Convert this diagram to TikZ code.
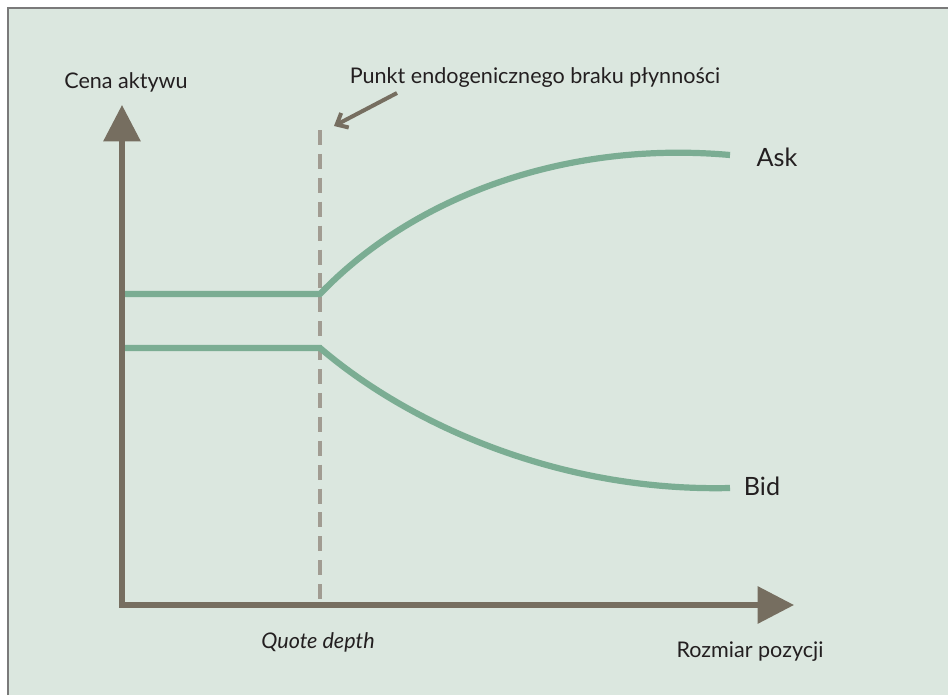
\documentclass[tikz,border=0pt]{standalone}
\usepackage{fontspec}
\setmainfont{Lato}
\usetikzlibrary{arrows.meta}
\definecolor{tlo}{HTML}{DBE7DF}
\definecolor{osie}{HTML}{766E60}
\definecolor{kreska}{HTML}{A19C92}
\definecolor{krzywa}{HTML}{7BAD93}
\definecolor{ramka}{HTML}{7A7A7A}
\definecolor{napis}{HTML}{231F20}
\begin{document}
\begin{tikzpicture}[x=0.03cm, y=-0.03cm,
    axis/.style={draw=osie, line width=4.3pt, {Triangle[length=31pt, width=31pt]}-{Triangle[length=31pt, width=31pt]}},
    quote/.style={draw=kreska, line width=3.4pt, dash pattern=on 12.8pt off 7.6pt},
    price/.style={draw=krzywa, line width=5.3pt},
    label/.style={text=napis, font=\fontsize{18.4}{20}\selectfont, inner sep=0pt},
    curvename/.style={label, font=\fontsize{21.5}{24}\selectfont}]
   \useasboundingbox (0,0) rectangle (948,695);
   \fill[white] (0,0) rectangle (948,695);
   \fill[tlo] (8,8) rectangle (948,695);
   \draw[ramka, line width=1.7pt] (8,695) -- (8,8) -- (948,8);
   % punkty
   \coordinate (O) at (122,605);
   \coordinate (Y) at (122,105);
   \coordinate (X) at (794,605);
   \coordinate (Q0) at (320,605);
   \coordinate (Q1) at (320,130);
   \coordinate (AL) at (123,294);
   \coordinate (A0) at (320,294);
   \coordinate (A1) at (730,155);
   \coordinate (BL) at (123,348);
   \coordinate (B0) at (320,348);
   \coordinate (B1) at (730,488);
   \coordinate (S) at (397,93);
   \coordinate (T) at (334,126);
   % napisy
   \node[label] (cena) at (126,82) {Cena aktywu};
   \node[label] (punkt) at (535,78) {Punkt endogenicznego braku płynności};
   \node[curvename] (ask) at (777,157) {Ask};
   \node[curvename] (bid) at (762,486) {Bid};
   \node[label, font=\fontsize{18.4}{20}\selectfont\itshape] (depth) at (318,642) {Quote depth};
   \node[label] (rozmiar) at (750,652) {Rozmiar pozycji};
   % linie
   \draw[quote] (Q1) -- (Q0);
   \draw[price] (AL) -- (A0) .. controls (410,200) and (560,140) .. (A1);
   \draw[price] (BL) -- (B0) .. controls (410,425) and (560,492) .. (B1);
   \draw[axis] (Y) -- (O) -- (X);
   \draw[osie, line width=3.4pt, -{Straight Barb[length=8pt, width=14pt]}] (S) -- (T);
\end{tikzpicture}
\end{document}
